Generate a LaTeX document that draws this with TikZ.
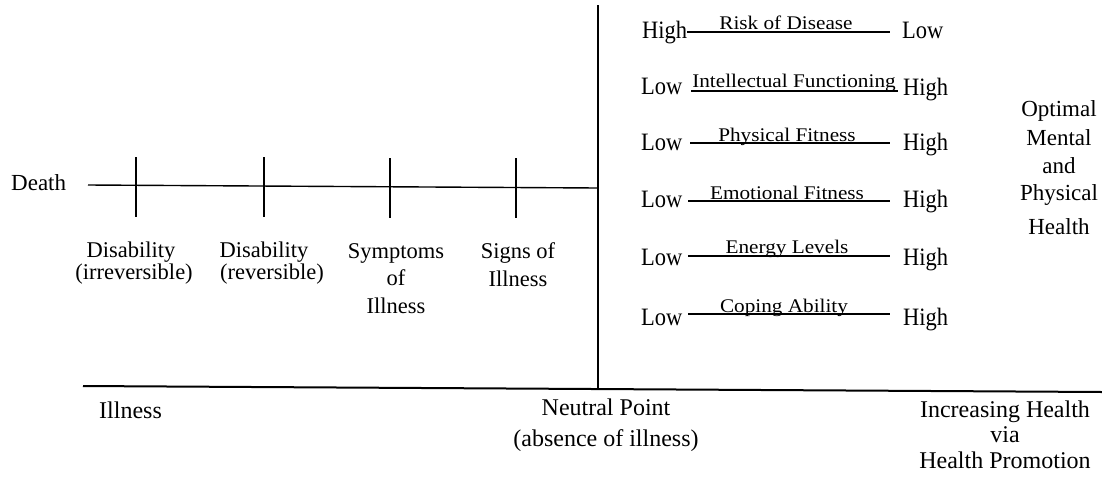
\documentclass[tikz,border=0pt]{standalone}
\usepackage{fontspec}
\setmainfont{Liberation Serif}
\newfontfamily\tallfont[FakeStretch=0.9]{Liberation Serif}
\newfontfamily\labfont[FakeStretch=1.1]{Liberation Serif}
\begin{document}
\begin{tikzpicture}[x=1pt,y=-1pt,
  txt/.style={inner sep=0pt, anchor=base, font=\fontsize{22.5}{26}\selectfont},
  side/.style={inner sep=0pt, anchor=base west, font=\tallfont\fontsize{25}{28}\selectfont},
  lab/.style={inner sep=0pt, anchor=base, font=\labfont\fontsize{19.3}{22}\selectfont},
  opt/.style={inner sep=0pt, anchor=base, font=\fontsize{23}{27}\selectfont},
  bot/.style={inner sep=0pt, anchor=base, font=\fontsize{24}{28}\selectfont},
  axis/.style={line width=1.4pt},
  baseaxis/.style={line width=2pt}]
\useasboundingbox (0,0) rectangle (1102,477);

% left scale
\node[inner sep=0pt, anchor=base west, font=\fontsize{23}{27}\selectfont] (death) at (11,190) {Death};
\coordinate (dl) at (88,185);
\coordinate (np) at (598,188);
\draw[axis] (dl) -- (np);
\foreach \i/\x/\yt/\yb in {1/136/157/217, 2/264/157/217, 3/390/158/218, 4/516/158/218}{
  \coordinate (t\i a) at (\x,\yt);
  \coordinate (t\i b) at (\x,\yb);
  \draw[axis] (t\i a) -- (t\i b);
}
\node[txt] (d1a) at (131,257) {Disability};
\node[txt] (d1b) at (134,279) {(irreversible)};
\node[txt] (d2a) at (264,257) {Disability};
\node[txt] (d2b) at (272,279) {(reversible)};
\node[txt] (s1a) at (396,258) {Symptoms};
\node[txt] (s1b) at (396,285) {of};
\node[txt] (s1c) at (396,313) {Illness};
\node[txt] (s2a) at (518,258) {Signs of};
\node[txt] (s2b) at (518,286) {Illness};

% vertical and base axis
\coordinate (vt) at (598,5);
\coordinate (vb) at (598,388);
\draw[axis] (vt) -- (vb);
\coordinate (bl) at (83,386);
\coordinate (br) at (1102,392);
\draw[baseaxis] (bl) -- (br);

% right scales
\node[side] (h1) at (642,38) {High};
\node[side] (l1) at (902,38) {Low};
\coordinate (r1a) at (687,32); \coordinate (r1b) at (890,32);
\draw[axis] (r1a) -- (r1b);
\node[lab] (n1) at (786,29) {Risk of Disease};

\node[side] (l2) at (641,94) {Low};
\node[side] (h2) at (903,95) {High};
\coordinate (r2a) at (691,91); \coordinate (r2b) at (898,91);
\draw[axis] (r2a) -- (r2b);
\node[lab] (n2) at (794,87) {Intellectual Functioning};

\node[side] (l3) at (641,150) {Low};
\node[side] (h3) at (903,150) {High};
\coordinate (r3a) at (690,143); \coordinate (r3b) at (890,143);
\draw[axis] (r3a) -- (r3b);
\node[lab] (n3) at (787,141) {Physical Fitness};

\node[side] (l4) at (641,207) {Low};
\node[side] (h4) at (903,207) {High};
\coordinate (r4a) at (688,201); \coordinate (r4b) at (890,201);
\draw[axis] (r4a) -- (r4b);
\node[lab] (n4) at (787,199) {Emotional Fitness};

\node[side] (l5) at (641,265) {Low};
\node[side] (h5) at (903,265) {High};
\coordinate (r5a) at (688,256); \coordinate (r5b) at (890,256);
\draw[axis] (r5a) -- (r5b);
\node[lab] (n5) at (787,253) {Energy Levels};

\node[side] (l6) at (641,325) {Low};
\node[side] (h6) at (903,325) {High};
\coordinate (r6a) at (688,314); \coordinate (r6b) at (890,314);
\draw[axis] (r6a) -- (r6b);
\node[lab] (n6) at (784,312) {Coping Ability};

% optimal health
\node[opt] (o1) at (1059,116) {Optimal};
\node[opt] (o2) at (1059,145) {Mental};
\node[opt] (o3) at (1059,173) {and};
\node[opt] (o4) at (1059,200) {Physical};
\node[opt] (o5) at (1059,234) {Health};

% bottom labels
\node[bot, anchor=base west] (ill) at (99,418) {Illness};
\node[bot] (neu1) at (606,415) {Neutral Point};
\node[bot] (neu2) at (606,446) {(absence of illness)};
\node[bot] (inc1) at (1005,417) {Increasing Health};
\node[bot] (inc2) at (1005,442) {via};
\node[bot] (inc3) at (1005,468) {Health Promotion};
\end{tikzpicture}
\end{document}
